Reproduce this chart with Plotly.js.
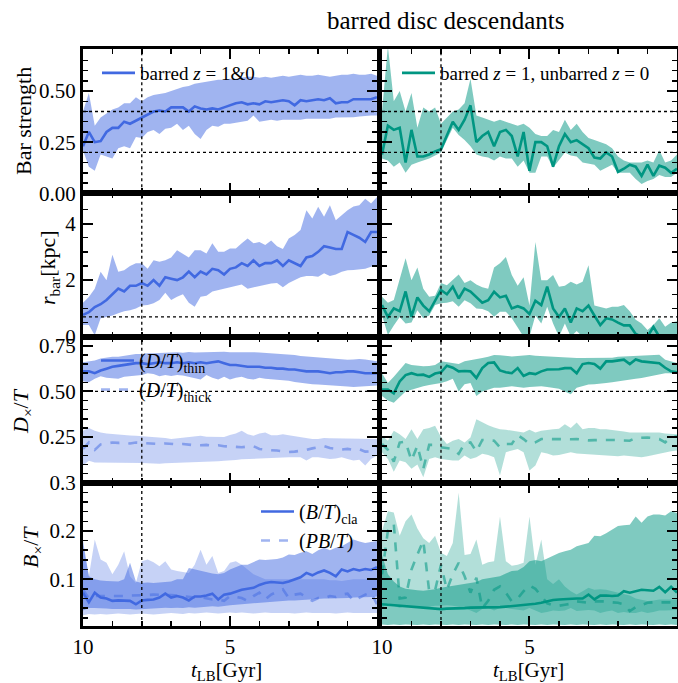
<!DOCTYPE html>
<html><head><meta charset="utf-8">
<script src="https://cdn.plot.ly/plotly-3.0.1.min.js"></script>
<style>html,body{margin:0;padding:0;background:#fff}#plot{width:678px;height:683px}</style>
</head><body><div id="plot"></div>
<script>
// ---- data ----
const tLB = [10.0,9.8,9.6,9.4,9.2,9.0,8.8,8.6,8.4,8.2,8.0,7.8,7.6,7.4,7.2,7.0,6.8,6.6,6.4,6.2,6.0,5.8,5.6,5.4,5.2,5.0,4.8,4.6,4.4,4.2,4.0,3.8,3.6,3.4,3.2,3.0,2.8,2.6,2.4,2.2,2.0,1.8,1.6,1.4,1.2,1.0,0.8,0.6,0.4,0.2,0.0];

// Bar strength
const bsL_med = [0.23,0.30,0.25,0.255,0.30,0.32,0.32,0.35,0.34,0.355,0.37,0.385,0.40,0.405,0.40,0.42,0.42,0.42,0.40,0.425,0.415,0.41,0.415,0.41,0.42,0.43,0.44,0.445,0.435,0.44,0.435,0.45,0.445,0.45,0.455,0.45,0.43,0.455,0.45,0.455,0.46,0.455,0.465,0.44,0.445,0.445,0.46,0.46,0.46,0.46,0.47];
const bsL_hi = [0.40,0.49,0.33,0.37,0.39,0.41,0.42,0.44,0.44,0.47,0.45,0.47,0.48,0.485,0.49,0.50,0.51,0.52,0.525,0.535,0.54,0.545,0.55,0.555,0.555,0.56,0.56,0.565,0.57,0.57,0.565,0.57,0.565,0.57,0.575,0.57,0.575,0.58,0.575,0.575,0.58,0.575,0.57,0.575,0.58,0.58,0.585,0.58,0.58,0.585,0.575];
const bsL_lo = [0.21,0.13,0.11,0.19,0.18,0.17,0.22,0.23,0.22,0.275,0.27,0.30,0.31,0.29,0.315,0.32,0.34,0.31,0.33,0.29,0.265,0.31,0.33,0.325,0.34,0.34,0.345,0.35,0.355,0.38,0.35,0.355,0.36,0.355,0.36,0.36,0.36,0.36,0.365,0.365,0.365,0.365,0.365,0.37,0.37,0.37,0.372,0.375,0.378,0.38,0.38];
const bsR_med = [0.19,0.33,0.31,0.32,0.15,0.31,0.18,0.18,0.19,0.205,0.215,0.28,0.35,0.31,0.36,0.43,0.25,0.28,0.30,0.23,0.30,0.31,0.28,0.18,0.30,0.11,0.25,0.25,0.23,0.13,0.23,0.29,0.25,0.26,0.24,0.22,0.175,0.17,0.20,0.18,0.105,0.12,0.14,0.13,0.085,0.14,0.085,0.135,0.125,0.10,0.12];
const bsR_hi = [0.40,0.72,0.45,0.50,0.40,0.49,0.32,0.42,0.40,0.42,0.34,0.37,0.40,0.41,0.44,0.56,0.38,0.37,0.36,0.35,0.36,0.35,0.34,0.33,0.34,0.32,0.29,0.28,0.28,0.31,0.30,0.36,0.31,0.34,0.30,0.27,0.26,0.25,0.24,0.22,0.18,0.16,0.15,0.15,0.15,0.16,0.15,0.21,0.15,0.16,0.19];
const bsR_lo = [0.17,0.16,0.13,0.15,0.10,0.14,0.15,0.16,0.17,0.185,0.20,0.26,0.32,0.285,0.26,0.23,0.19,0.18,0.175,0.16,0.18,0.17,0.17,0.13,0.16,0.10,0.10,0.18,0.18,0.125,0.165,0.20,0.185,0.18,0.15,0.145,0.14,0.11,0.125,0.14,0.10,0.10,0.10,0.07,0.046,0.06,0.07,0.09,0.08,0.08,0.10];

// r_bar [kpc]
const rbL_med = [0.77,0.87,1.05,1.15,1.3,1.5,1.7,1.6,1.8,1.8,1.9,1.8,2.0,1.8,2.1,2.05,2.0,2.1,2.3,2.1,2.3,2.2,2.4,2.35,2.2,2.4,2.45,2.6,2.5,2.7,2.5,2.6,2.6,2.7,2.5,2.7,2.6,2.5,2.8,2.85,3.0,3.2,3.15,3.1,3.1,3.7,3.6,3.5,3.35,3.7,3.7];
const rbL_hi = [1.2,1.4,1.7,2.3,2.0,2.9,2.3,2.35,2.5,2.6,2.6,2.4,2.7,2.65,2.7,2.8,3.06,2.94,2.8,3.06,3.06,2.94,3.3,3.0,3.0,3.12,3.12,3.3,3.47,3.3,3.35,3.24,3.4,3.2,3.1,3.47,3.6,3.77,4.47,4.18,4.59,4.24,4.65,4.12,4.3,4.47,4.6,4.65,4.88,4.71,4.94];
const rbL_lo = [0.41,0.41,0.05,0.65,0.70,0.75,0.83,0.9,0.94,1.0,1.1,1.12,1.18,1.3,1.55,1.3,1.41,1.5,1.2,1.06,1.41,1.45,1.6,1.65,1.7,1.76,1.82,1.85,1.7,1.75,1.8,1.85,1.88,1.9,1.75,1.9,2.0,2.1,2.15,2.15,2.12,2.24,2.15,2.2,2.3,2.35,2.36,2.38,2.4,2.47,2.53];
const rbR_med = [1.12,0.7,1.0,0.9,1.6,0.71,1.39,1.1,0.9,1.3,1.65,1.5,1.77,1.35,1.7,1.6,1.4,1.2,1.29,1.59,1.39,1.45,1.0,1.08,1.0,0.8,1.27,1.12,1.77,1.0,0.7,1.0,0.5,1.0,0.9,1.1,0.75,0.41,0.65,0.61,0.5,0.4,0.4,0.1,0.0,0.0,0.35,0.0,0.0,0.0,0.05];
const rbR_hi = [1.41,1.2,1.3,2.0,2.77,2.0,2.45,1.7,1.41,1.45,1.9,1.82,2.0,2.2,1.9,2.0,1.85,1.75,1.7,2.45,2.6,2.82,2.18,1.8,2.1,1.1,3.35,2.0,2.0,2.18,1.77,1.8,1.94,1.85,1.94,2.53,1.1,1.05,1.0,1.06,1.06,1.12,0.9,0.6,0.47,0.24,0.41,0.65,0.35,0.5,0.55];
const rbR_lo = [0.77,0.06,0.4,0.7,0.47,0.5,0.94,0.65,0.75,1.12,1.18,1.2,1.25,1.06,1.29,1.18,1.0,0.98,0.9,0.71,0.88,0.88,0.65,0.3,0.0,0.0,0.75,0.47,1.06,0.47,0.0,0.47,0.0,0.2,0,0,0,0,0,0,0,0,0,0,0,0,0,0,0,0,0];

// D_x/T : thin and thick discs
const thinL_med = [0.61,0.61,0.60,0.615,0.625,0.635,0.64,0.645,0.65,0.655,0.655,0.65,0.655,0.66,0.655,0.655,0.66,0.655,0.66,0.655,0.66,0.655,0.66,0.665,0.655,0.645,0.645,0.64,0.635,0.635,0.635,0.63,0.63,0.625,0.625,0.62,0.62,0.615,0.61,0.61,0.61,0.605,0.60,0.605,0.605,0.61,0.61,0.605,0.60,0.60,0.60];
const thinL_hi = [0.66,0.665,0.67,0.68,0.685,0.69,0.69,0.695,0.70,0.705,0.705,0.71,0.71,0.712,0.71,0.715,0.715,0.712,0.716,0.714,0.715,0.716,0.718,0.716,0.717,0.715,0.716,0.714,0.716,0.715,0.714,0.712,0.71,0.71,0.708,0.705,0.70,0.695,0.692,0.69,0.685,0.682,0.68,0.678,0.676,0.674,0.675,0.678,0.675,0.67,0.665];
const thinL_lo = [0.556,0.55,0.57,0.583,0.575,0.574,0.57,0.58,0.583,0.585,0.59,0.60,0.595,0.583,0.59,0.585,0.59,0.587,0.58,0.575,0.565,0.59,0.575,0.565,0.58,0.565,0.575,0.58,0.57,0.565,0.575,0.57,0.568,0.565,0.562,0.558,0.552,0.547,0.544,0.54,0.538,0.535,0.532,0.53,0.528,0.527,0.525,0.526,0.527,0.53,0.533];
const thickL_med = [0.185,0.22,0.18,0.21,0.215,0.22,0.218,0.22,0.215,0.22,0.218,0.215,0.215,0.212,0.215,0.212,0.21,0.212,0.208,0.205,0.205,0.207,0.203,0.205,0.2,0.198,0.2,0.194,0.198,0.2,0.185,0.18,0.178,0.176,0.17,0.168,0.17,0.174,0.18,0.188,0.195,0.2,0.19,0.185,0.182,0.185,0.18,0.183,0.17,0.172,0.2];
const thickL_hi = [0.284,0.30,0.285,0.275,0.27,0.266,0.265,0.26,0.258,0.257,0.255,0.25,0.25,0.248,0.245,0.24,0.243,0.248,0.25,0.255,0.257,0.252,0.25,0.248,0.25,0.262,0.27,0.284,0.265,0.257,0.27,0.275,0.26,0.26,0.265,0.26,0.255,0.25,0.248,0.24,0.24,0.245,0.243,0.243,0.243,0.242,0.242,0.24,0.24,0.24,0.24];
const thickL_lo = [0.094,0.12,0.11,0.11,0.112,0.112,0.11,0.11,0.109,0.108,0.108,0.106,0.104,0.104,0.106,0.107,0.11,0.112,0.112,0.112,0.113,0.115,0.116,0.117,0.12,0.121,0.124,0.128,0.13,0.132,0.134,0.135,0.136,0.138,0.14,0.14,0.14,0.14,0.122,0.14,0.14,0.135,0.13,0.132,0.14,0.13,0.122,0.125,0.094,0.13,0.149];
const thinR_med = [0.511,0.511,0.49,0.555,0.59,0.60,0.59,0.592,0.58,0.598,0.605,0.641,0.63,0.61,0.612,0.61,0.574,0.628,0.656,0.659,0.615,0.605,0.60,0.628,0.585,0.60,0.595,0.61,0.62,0.62,0.622,0.628,0.628,0.60,0.65,0.656,0.65,0.625,0.665,0.665,0.668,0.674,0.65,0.675,0.665,0.662,0.661,0.655,0.63,0.61,0.605];
const thinR_hi = [0.60,0.547,0.58,0.62,0.656,0.645,0.64,0.638,0.64,0.645,0.665,0.66,0.656,0.65,0.665,0.67,0.675,0.683,0.69,0.70,0.698,0.695,0.692,0.695,0.697,0.70,0.696,0.694,0.69,0.688,0.69,0.688,0.685,0.683,0.683,0.683,0.683,0.683,0.683,0.685,0.69,0.692,0.692,0.692,0.695,0.698,0.70,0.701,0.674,0.665,0.656];
const thinR_lo = [0.475,0.45,0.438,0.47,0.50,0.51,0.52,0.529,0.535,0.54,0.547,0.556,0.57,0.50,0.54,0.547,0.475,0.5,0.511,0.52,0.52,0.525,0.529,0.525,0.52,0.525,0.529,0.529,0.525,0.52,0.515,0.50,0.484,0.52,0.529,0.538,0.54,0.545,0.547,0.55,0.556,0.56,0.565,0.57,0.574,0.58,0.587,0.59,0.60,0.60,0.60];
const thickR_med = [0.212,0.18,0.115,0.22,0.225,0.121,0.203,0.076,0.207,0.207,0.194,0.19,0.185,0.158,0.215,0.221,0.171,0.234,0.23,0.23,0.194,0.212,0.212,0.261,0.239,0.212,0.221,0.239,0.239,0.238,0.237,0.236,0.238,0.239,0.234,0.232,0.233,0.234,0.234,0.234,0.233,0.232,0.23,0.245,0.248,0.248,0.245,0.239,0.221,0.248,0.254];
const thickR_hi = [0.257,0.23,0.284,0.265,0.239,0.293,0.239,0.293,0.30,0.312,0.25,0.212,0.23,0.239,0.22,0.248,0.348,0.33,0.315,0.302,0.293,0.29,0.285,0.28,0.275,0.29,0.275,0.284,0.29,0.293,0.295,0.32,0.30,0.33,0.293,0.30,0.30,0.293,0.293,0.29,0.284,0.28,0.275,0.275,0.275,0.275,0.275,0.275,0.27,0.268,0.266];
const thickR_lo = [0.167,0.13,0.06,0.121,0.112,0.076,0.10,0.03,0.13,0.14,0.13,0.125,0.121,0.121,0.149,0.13,0.14,0.158,0.152,0.14,0.04,0.167,0.176,0.185,0.167,0.067,0.094,0.167,0.16,0.149,0.152,0.16,0.167,0.16,0.158,0.155,0.152,0.15,0.149,0.147,0.145,0.149,0.145,0.145,0.14,0.145,0.152,0.16,0.167,0.172,0.176];

// B_x/T : classical bulge and pseudo-bulge
const btL_med = [0.072,0.052,0.072,0.062,0.06,0.055,0.056,0.056,0.055,0.048,0.056,0.057,0.058,0.062,0.07,0.062,0.065,0.062,0.056,0.064,0.064,0.066,0.07,0.058,0.068,0.07,0.074,0.078,0.08,0.082,0.088,0.092,0.094,0.093,0.092,0.095,0.1,0.104,0.113,0.108,0.114,0.118,0.113,0.106,0.12,0.116,0.121,0.118,0.121,0.119,0.125];
const btL_hi = [0.18,0.106,0.10,0.097,0.096,0.095,0.095,0.1,0.134,0.095,0.092,0.093,0.092,0.093,0.094,0.095,0.1,0.1,0.123,0.12,0.117,0.115,0.112,0.11,0.113,0.12,0.125,0.13,0.13,0.135,0.141,0.14,0.141,0.142,0.145,0.151,0.15,0.155,0.158,0.152,0.16,0.165,0.16,0.165,0.168,0.175,0.182,0.178,0.175,0.177,0.179];
const btL_lo = [0.035,0.04,0.04,0.04,0.039,0.038,0.038,0.039,0.038,0.037,0.038,0.039,0.04,0.04,0.041,0.04,0.041,0.04,0.042,0.041,0.042,0.043,0.044,0.043,0.045,0.046,0.047,0.048,0.05,0.05,0.052,0.052,0.053,0.054,0.055,0.056,0.056,0.057,0.058,0.058,0.059,0.06,0.06,0.06,0.061,0.061,0.062,0.062,0.063,0.063,0.064];
const pbL_med = [0.078,0.06,0.065,0.065,0.064,0.064,0.065,0.065,0.066,0.066,0.066,0.067,0.068,0.068,0.068,0.067,0.066,0.065,0.064,0.062,0.063,0.06,0.058,0.058,0.055,0.065,0.063,0.061,0.055,0.065,0.072,0.058,0.068,0.073,0.079,0.061,0.068,0.07,0.062,0.055,0.061,0.06,0.065,0.063,0.068,0.07,0.055,0.062,0.068,0.072,0.048];
const pbL_hi = [0.17,0.106,0.182,0.141,0.134,0.11,0.13,0.158,0.106,0.092,0.137,0.141,0.135,0.127,0.137,0.12,0.117,0.115,0.113,0.13,0.161,0.13,0.148,0.113,0.117,0.134,0.137,0.13,0.12,0.11,0.105,0.1,0.1,0.1,0.1,0.1,0.1,0.1,0.1,0.1,0.1,0.1,0.098,0.098,0.096,0.098,0.1,0.1,0.1,0.1,0.1];
const pbL_lo = [0.025,0.028,0.027,0.028,0.027,0.028,0.029,0.028,0.027,0.028,0.029,0.028,0.027,0.028,0.029,0.03,0.029,0.028,0.03,0.029,0.03,0.031,0.03,0.029,0.03,0.031,0.03,0.031,0.03,0.029,0.03,0.031,0.03,0.03,0.031,0.03,0.029,0.03,0.031,0.03,0.03,0.031,0.03,0.029,0.03,0.031,0.03,0.03,0.031,0.03,0.03];
const btR_med = [0.048,0.047,0.046,0.045,0.044,0.043,0.042,0.041,0.04,0.039,0.038,0.039,0.039,0.04,0.04,0.041,0.041,0.041,0.041,0.042,0.042,0.043,0.044,0.045,0.046,0.047,0.049,0.051,0.054,0.057,0.058,0.059,0.06,0.06,0.06,0.068,0.058,0.066,0.066,0.065,0.066,0.075,0.072,0.075,0.078,0.077,0.076,0.084,0.073,0.084,0.072];
const btR_hi = [0.15,0.11,0.095,0.085,0.08,0.078,0.077,0.076,0.077,0.079,0.082,0.084,0.086,0.088,0.09,0.092,0.094,0.1,0.102,0.104,0.106,0.112,0.117,0.118,0.125,0.137,0.14,0.137,0.143,0.148,0.154,0.158,0.161,0.168,0.172,0.175,0.19,0.189,0.195,0.203,0.21,0.212,0.213,0.23,0.217,0.23,0.234,0.234,0.232,0.241,0.237];
const btR_lo = [0.006,0.005,0.006,0.005,0.006,0.005,0.005,0.006,0.005,0.006,0.005,0.005,0.006,0.005,0.006,0.005,0.005,0.006,0.005,0.006,0.005,0.005,0.006,0.005,0.006,0.005,0.005,0.006,0.005,0.006,0.005,0.005,0.006,0.005,0.006,0.005,0.005,0.006,0.005,0.006,0.005,0.005,0.006,0.005,0.006,0.005,0.005,0.006,0.005,0.006,0.005];
const pbR_med = [0.11,0.2,0.215,0.06,0.062,0.12,0.151,0.18,0.075,0.077,0.13,0.078,0.11,0.134,0.106,0.072,0.103,0.04,0.055,0.078,0.085,0.072,0.054,0.06,0.075,0.087,0.08,0.065,0.05,0.046,0.045,0.047,0.049,0.054,0.052,0.051,0.054,0.054,0.054,0.052,0.051,0.048,0.034,0.042,0.046,0.051,0.052,0.052,0.052,0.052,0.052];
const pbR_hi = [0.2,0.241,0.238,0.19,0.22,0.234,0.205,0.185,0.175,0.19,0.155,0.148,0.175,0.279,0.15,0.152,0.182,0.13,0.135,0.137,0.23,0.137,0.128,0.13,0.134,0.23,0.13,0.182,0.1,0.09,0.1,0.085,0.075,0.068,0.075,0.082,0.078,0.079,0.078,0.075,0.072,0.07,0.066,0.06,0.058,0.055,0.056,0.058,0.058,0.058,0.058];
const pbR_lo = [0.04,0.05,0.045,0.04,0.045,0.042,0.04,0.04,0.042,0.045,0.045,0.046,0.045,0.042,0.04,0.035,0.03,0.038,0.04,0.035,0.04,0.04,0.038,0.036,0.035,0.04,0.035,0.03,0.032,0.035,0.034,0.035,0.04,0.034,0.035,0.036,0.035,0.03,0.033,0.035,0.03,0.032,0.03,0.03,0.033,0.03,0.032,0.035,0.035,0.036,0.036];

// axis ticks / reference lines
const xTickVals = [10, 5, 0];
const xTickText = ['10', '5', ''];
const yTickVals = [[0, 0.25, 0.5], [0, 2, 4], [0.25, 0.5, 0.75], [0.1, 0.2, 0.3]];
const yTickText = [['0.00', '0.25', '0.50'], ['0', '2', '4'], ['0.25', '0.50', '0.75'], ['0.1', '0.2', '0.3']];
const yRanges = [[0, 0.704], [0, 5.07], [0, 0.8], [0.003, 0.3]];
const yMinor = [0.05, 0.5, 0.05, 0.02];
const refT = 8;
const refY = [[0.2, 0.4], [0.7], [0.5], []];

// ---- styling ----
const FONT = 'Liberation Serif, Times New Roman, serif';
const BLUE = 'rgb(65,105,225)';
const BLUE_F = 'rgba(65,105,225,0.5)';
const BLUE_F2 = 'rgba(65,105,225,0.3)';
const BLUE_L2 = 'rgba(65,105,225,0.5)';
const TEAL = 'rgb(0,150,130)';
const TEAL_F = 'rgba(0,150,130,0.5)';
const TEAL_F2 = 'rgba(0,150,130,0.3)';
const TEAL_L2 = 'rgba(0,150,130,0.55)';

const xDom = [[0.1224, 0.5560], [0.5634, 0.9985]];
const yDom = [[0.7170, 0.9278], [0.5070, 0.7170], [0.2933, 0.5070], [0.0835, 0.2933]];

function axId(p) { return p === 0 ? '' : String(p + 1); }
function axRef(p) { return {x: 'x' + axId(p), y: 'y' + axId(p)}; }

const traces = [];
function band(p, lo, hi, fc) {
  const a = axRef(p);
  traces.push({x: tLB, y: lo, xaxis: a.x, yaxis: a.y, mode: 'lines', line: {width: 0, color: fc}, showlegend: false, hoverinfo: 'skip'});
  traces.push({x: tLB, y: hi, xaxis: a.x, yaxis: a.y, mode: 'lines', line: {width: 0, color: fc}, fill: 'tonexty', fillcolor: fc, showlegend: false, hoverinfo: 'skip'});
}
function line(p, y, color, dash, name, leg) {
  const a = axRef(p);
  const t = {x: tLB, y: y, xaxis: a.x, yaxis: a.y, mode: 'lines', line: {color: color, width: 2.6, dash: dash}, showlegend: !!name, name: name || ''};
  if (leg) t.legend = leg;
  traces.push(t);
}

// row 1
band(0, bsL_lo, bsL_hi, BLUE_F); line(0, bsL_med, BLUE, 'solid', 'barred <i>z</i> = 1&amp;0', 'legend');
band(1, bsR_lo, bsR_hi, TEAL_F); line(1, bsR_med, TEAL, 'solid', 'barred <i>z</i> = 1, unbarred <i>z</i> = 0', 'legend2');
// row 2
band(2, rbL_lo, rbL_hi, BLUE_F); line(2, rbL_med, BLUE, 'solid');
band(3, rbR_lo, rbR_hi, TEAL_F); line(3, rbR_med, TEAL, 'solid');
// row 3
band(4, thickL_lo, thickL_hi, BLUE_F2); band(4, thinL_lo, thinL_hi, BLUE_F);
line(4, thinL_med, BLUE, 'solid', '(<i>D</i>/<i>T</i>)<sub>thin</sub>', 'legend3');
line(4, thickL_med, BLUE_L2, 'dash', '(<i>D</i>/<i>T</i>)<sub>thick</sub>', 'legend3');
band(5, thickR_lo, thickR_hi, TEAL_F2); band(5, thinR_lo, thinR_hi, TEAL_F);
line(5, thinR_med, TEAL, 'solid'); line(5, thickR_med, TEAL_L2, 'dash');
// row 4
band(6, pbL_lo, pbL_hi, BLUE_F2); band(6, btL_lo, btL_hi, BLUE_F);
line(6, btL_med, BLUE, 'solid', '(<i>B</i>/<i>T</i>)<sub>cla</sub>', 'legend4');
line(6, pbL_med, BLUE_L2, 'dash', '(<i>PB</i>/<i>T</i>)', 'legend4');
band(7, pbR_lo, pbR_hi, TEAL_F2); band(7, btR_lo, btR_hi, TEAL_F);
line(7, btR_med, TEAL, 'solid'); line(7, pbR_med, TEAL_L2, 'dash');

const layout = {
  width: 678, height: 683,
  margin: {l: 0, r: 0, t: 0, b: 0},
  paper_bgcolor: '#fff', plot_bgcolor: '#fff',
  font: {family: FONT, size: 21, color: '#000'},
  showlegend: true,
  shapes: [], annotations: []
};
const legBase = {bgcolor: 'rgba(0,0,0,0)', borderwidth: 0, itemwidth: 33, xanchor: 'left', yanchor: 'top', traceorder: 'normal'};
layout.legend = Object.assign({}, legBase, {x: 97 / 678, y: 1 - 54 / 683, font: {family: FONT, size: 19, color: '#000'}});
layout.legend2 = Object.assign({}, legBase, {x: 397 / 678, y: 1 - 54 / 683, font: {family: FONT, size: 19, color: '#000'}});
layout.legend3 = Object.assign({}, legBase, {x: 96 / 678, y: 1 - 341 / 683, font: {family: FONT, size: 20, color: '#000'}});
layout.legend4 = Object.assign({}, legBase, {x: 256 / 678, y: 1 - 492 / 683, font: {family: FONT, size: 20, color: '#000'}});

for (let p = 0; p < 8; p++) {
  const row = Math.floor(p / 2), col = p % 2;
  const id = axId(p);
  layout['xaxis' + id] = {
    domain: xDom[col], range: [10, 0], anchor: 'y' + id,
    showline: true, linecolor: '#000', linewidth: 3, mirror: 'allticks',
    ticks: 'inside', ticklen: 10, tickwidth: 2, tickcolor: '#000',
    tickmode: 'array', tickvals: xTickVals, ticktext: xTickText,
    showticklabels: row === 3, showgrid: false, zeroline: false,
    tickfont: {family: FONT, size: 21, color: '#000'},
    minor: {dtick: 1, tick0: 0, ticks: 'inside', ticklen: 5, tickwidth: 1.5, tickcolor: '#000', showgrid: false}
  };
  layout['yaxis' + id] = {
    domain: yDom[row], range: yRanges[row], anchor: 'x' + id,
    showline: true, linecolor: '#000', linewidth: 3, mirror: 'allticks',
    ticks: 'inside', ticklen: 10, tickwidth: 2, tickcolor: '#000',
    tickmode: 'array', tickvals: yTickVals[row], ticktext: yTickText[row],
    showticklabels: col === 0, showgrid: false, zeroline: false,
    tickfont: {family: FONT, size: 21, color: '#000'},
    minor: {dtick: yMinor[row], tick0: 0, ticks: 'inside', ticklen: 5, tickwidth: 1.5, tickcolor: '#000', showgrid: false}
  };
  const a = axRef(p);
  layout.shapes.push({type: 'line', xref: a.x, yref: a.y + ' domain', x0: refT, x1: refT, y0: 0, y1: 1,
    line: {color: '#000', width: 1.3, dash: 'dot'}, layer: 'above'});
  refY[row].forEach(v => layout.shapes.push({type: 'line', xref: a.x + ' domain', yref: a.y, x0: 0, x1: 1, y0: v, y1: v,
    line: {color: '#000', width: 1.3, dash: 'dot'}, layer: 'above'}));
}

// titles
layout.annotations.push({text: 'barred disc descendants', xref: 'paper', yref: 'paper', x: 445 / 678, y: 1 - 20 / 683,
  xanchor: 'center', yanchor: 'middle', showarrow: false, font: {family: FONT, size: 25, color: '#000'}});
const yTitles = [
  ['Bar strength', 23, 121],
  ['<i>r</i><sub>bar</sub>[kpc]', 49, 268],
  ['<i>D</i><sub>×</sub>/<i>T</i>', 22, 411],
  ['<i>B</i><sub>×</sub>/<i>T</i>', 32, 547]
];
yTitles.forEach(t => layout.annotations.push({text: t[0], xref: 'paper', yref: 'paper', x: t[1] / 678, y: 1 - t[2] / 683,
  xanchor: 'center', yanchor: 'middle', textangle: -90, showarrow: false, font: {family: FONT, size: 22, color: '#000'}}));
[226, 528].forEach(cx => layout.annotations.push({text: '<i>t</i><sub>LB</sub>[Gyr]', xref: 'paper', yref: 'paper',
  x: cx / 678, y: 1 - 671 / 683, xanchor: 'center', yanchor: 'middle', showarrow: false, font: {family: FONT, size: 21, color: '#000'}}));

Plotly.newPlot('plot', traces, layout, {staticPlot: true, displayModeBar: false});
</script>
</body></html>
